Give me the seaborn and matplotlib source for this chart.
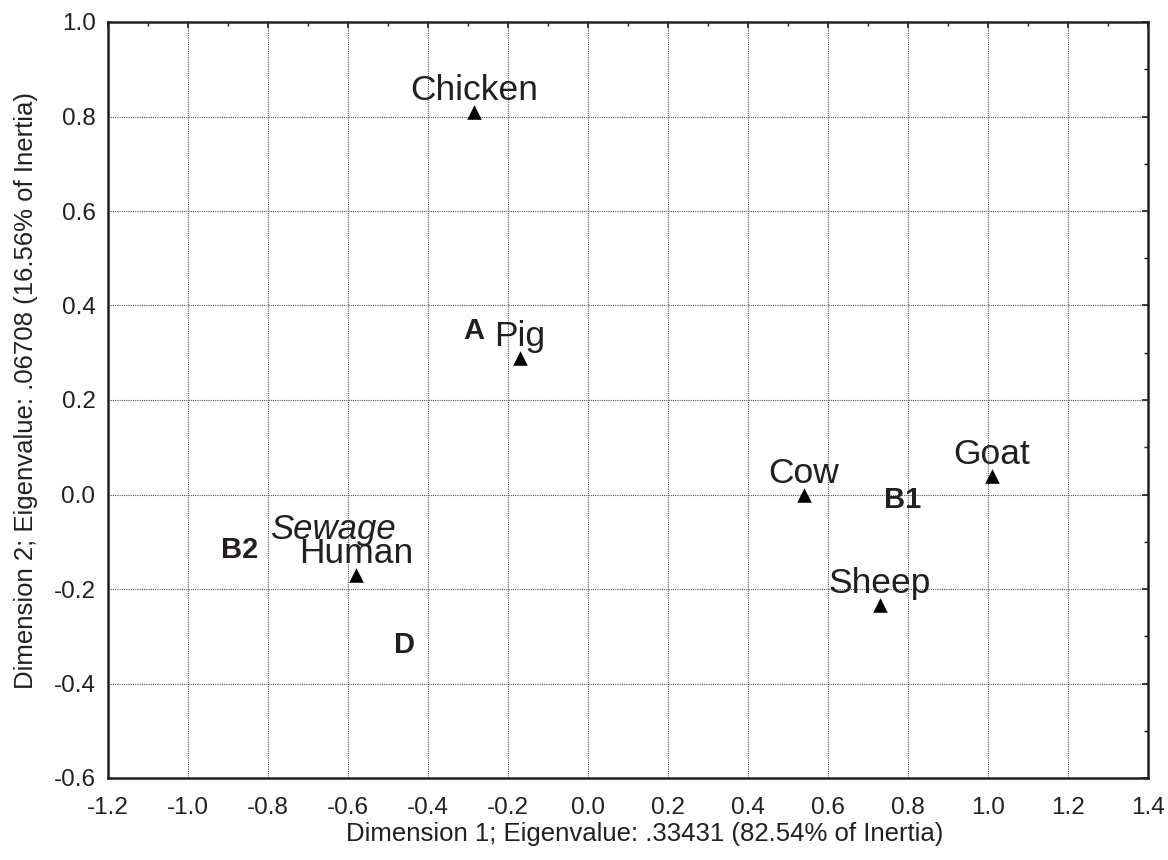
import matplotlib

matplotlib.use("Agg")
import matplotlib.pyplot as plt
import numpy as np
import pandas as pd
import seaborn as sns
from matplotlib.ticker import FormatStrFormatter, MultipleLocator

# species points (dimension 1, dimension 2)
species = ["Chicken", "Pig", "Cow", "Goat", "Sheep", "Human"]
dim1 = [-0.285, -0.17, 0.54, 1.01, 0.73, -0.58]
dim2 = [0.81, 0.289, 0.0, 0.04, -0.234, -0.17]

# cluster / group labels
groups = ["A", "B1", "B2", "D"]
group_x = [-0.285, 0.7875, -0.87, -0.4575]
group_y = [0.346, -0.012, -0.117, -0.318]

extra_label = "Sewage"
extra_x, extra_y = -0.6375, -0.075

df = pd.DataFrame({"species": species, "dim1": dim1, "dim2": dim2})

sns.set_style("white")
plt.rcParams["font.family"] = ["Liberation Sans", "DejaVu Sans"]

fig, ax = plt.subplots(figsize=(11.68, 8.6), dpi=100)
sns.scatterplot(
    data=df, x="dim1", y="dim2", marker="^", color="black",
    s=110, edgecolor="black", linewidth=0, ax=ax, zorder=3,
)

for name, x, y in zip(species, dim1, dim2):
    ax.annotate(name, (x, y), xytext=(0, 8.5), textcoords="offset points",
                ha="center", va="baseline", fontsize=25.5, color="#231f20")

for name, x, y in zip(groups, group_x, group_y):
    ax.text(x, y, name, ha="center", va="center", fontsize=21,
            fontweight="bold", color="#231f20")

ax.text(extra_x, extra_y, extra_label, ha="center", va="center",
        fontsize=25, style="italic", color="#231f20")

ax.set_xlim(-1.2, 1.4)
ax.set_ylim(-0.6, 1.0)
ax.xaxis.set_major_locator(MultipleLocator(0.2))
ax.yaxis.set_major_locator(MultipleLocator(0.2))
ax.xaxis.set_minor_locator(MultipleLocator(0.1))
ax.yaxis.set_minor_locator(MultipleLocator(0.1))
ax.xaxis.set_major_formatter(FormatStrFormatter("%.1f"))
ax.yaxis.set_major_formatter(FormatStrFormatter("%.1f"))

ax.grid(True, which="major", color="#555555", linestyle=(0, (1, 1)), linewidth=0.8)
ax.tick_params(which="both", direction="in", top=True, right=True,
               color="#231f20", labelsize=17.5, labelcolor="#231f20")
ax.tick_params(axis="x", which="major", pad=14)
ax.tick_params(axis="y", which="major", pad=9)
ax.tick_params(which="major", length=4, width=1.2)
ax.tick_params(which="minor", length=3, width=1.0)
for sp in ax.spines.values():
    sp.set_color("#231f20")
    sp.set_linewidth(1.8)
    sp.set_visible(True)

ax.set_xlabel("Dimension 1; Eigenvalue: .33431 (82.54% of Inertia)",
              fontsize=18.5, color="#231f20", labelpad=2)
ax.set_ylabel("Dimension 2; Eigenvalue: .06708 (16.56% of Inertia)",
              fontsize=18.5, color="#231f20", labelpad=11)
ax.xaxis.label.set_x(0.516)
ax.yaxis.label.set_y(0.513)

fig.subplots_adjust(left=108 / 1168, right=1148 / 1168, top=1 - 22 / 860,
                    bottom=1 - 778 / 860)
fig.savefig("out.png", dpi=100)
plt.close(fig)
